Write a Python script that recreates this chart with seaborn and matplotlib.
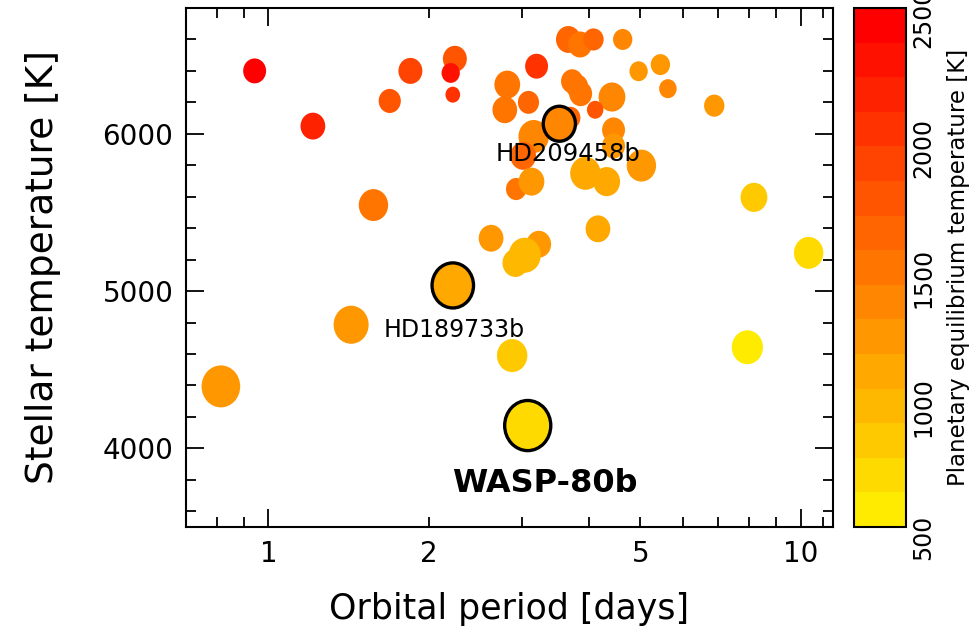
import numpy as np
import pandas as pd
import seaborn as sns
import matplotlib
matplotlib.use("Agg")
import matplotlib.pyplot as plt
from matplotlib.colors import ListedColormap, Normalize
from matplotlib.cm import ScalarMappable
from matplotlib.path import Path
from matplotlib.transforms import Affine2D, ScaledTranslation
from matplotlib.ticker import FixedLocator, FixedFormatter

# ---------------- data ----------------
period = [0.942, 1.212, 1.69, 1.848, 1.575, 2.24, 2.20, 2.22, 3.19, 2.81,
          2.78, 3.08, 3.66, 3.85, 4.08, 4.63, 3.72, 3.80, 3.86, 4.42,
          4.11, 3.69, 3.52, 3.15, 3.01, 4.45, 4.45, 2.92, 3.12, 3.94,
          4.32, 5.02, 4.16, 2.62, 3.22, 3.03, 2.91, 1.43, 0.814, 2.22,
          2.87, 3.07, 4.96, 5.45, 5.63, 6.88, 8.17, 10.35, 7.94]
teff = [6400, 6049, 6209, 6400, 5547, 6477, 6387, 6249, 6430, 6313,
        6153, 6200, 6600, 6568, 6600, 6600, 6334, 6302, 6255, 6234,
        6153, 6102, 6064, 5983, 5860, 6025, 5923, 5649, 5696, 5749,
        5696, 5798, 5396, 5336, 5298, 5228, 5179, 4786, 4394, 5036,
        4590, 4145, 6398, 6440, 6287, 6179, 5596, 5243, 4643]
teq = [2370, 2200, 1820, 1900, 1560, 1780, 2240, 1990, 1990, 1520,
       1560, 1650, 1650, 1560, 1690, 1350, 1520, 1480, 1440, 1390,
       1730, 1690, 1400, 1390, 1600, 1300, 1270, 1520, 1220, 1100,
       1050, 1180, 1140, 1220, 1220, 1030, 1030, 1220, 1270, 1100,
       800, 670, 1270, 1220, 1350, 1180, 840, 670, 520]
rp_rs = [0.089, 0.096, 0.086, 0.093, 0.114, 0.093, 0.071, 0.057, 0.089, 0.100,
         0.096, 0.082, 0.096, 0.093, 0.079, 0.075, 0.086, 0.086, 0.089, 0.104,
         0.064, 0.079, 0.125, 0.118, 0.100, 0.089, 0.089, 0.079, 0.100, 0.118,
         0.104, 0.114, 0.096, 0.096, 0.096, 0.125, 0.100, 0.136, 0.150, 0.161,
         0.118, 0.179, 0.071, 0.075, 0.068, 0.079, 0.104, 0.114, 0.121]
names = [""] * 49
names[22] = "HD209458b"
names[39] = "HD189733b"
names[41] = "WASP-80b"

x_ticklabels = ["1", "2", "5", "10"]
cbar_ticklabels = ["500", "1000", "1500", "2000", "2500"]

df = pd.DataFrame({"period": period, "teff": teff, "teq": teq,
                   "rp_rs": rp_rs, "name": names})
df["area"] = df["rp_rs"] ** 2

# ---------------- style ----------------
sns.set_theme(style="white")
plt.rcParams["font.family"] = ["DejaVu Sans"]
plt.rcParams["text.color"] = "black"
plt.rcParams["axes.labelcolor"] = "black"
plt.rcParams["xtick.color"] = "black"
plt.rcParams["ytick.color"] = "black"

# discrete yellow -> red colormap
nlev = 15
g = np.linspace(0.92, 0.0, nlev)
cmap = ListedColormap([(1.0, gi, 0.0) for gi in g])
norm = Normalize(500, 2500)

# elliptical marker (slightly taller than wide)
ell = Path.unit_circle().transformed(Affine2D().scale(0.92, 1.0))

amin, amax = df["area"].min(), df["area"].max()
k = 201.6 ** 2  # pt^2 per unit area
size_range = (k * amin, k * amax)

fig = plt.figure(figsize=(9.73, 6.30), dpi=100)
ax = fig.add_axes([186 / 973, 1 - 527 / 630, (833 - 186) / 973, (527 - 8) / 630])
cax = fig.add_axes([854 / 973, 1 - 527 / 630, 52 / 973, (527 - 8) / 630])

plain = df[df["name"] == ""]
special = df[df["name"] != ""]

sns.scatterplot(data=plain, x="period", y="teff", hue="teq", palette=cmap,
                hue_norm=norm, size="area", sizes=size_range,
                size_norm=(amin, amax), marker=ell, linewidth=0,
                legend=False, ax=ax)
sns.scatterplot(data=special, x="period", y="teff", hue="teq", palette=cmap,
                hue_norm=norm, size="area", sizes=size_range,
                size_norm=(amin, amax), marker=ell, edgecolor="black",
                linewidth=2.4, legend=False, ax=ax, zorder=5)

ax.set_xscale("log")
ax.set_xlim(0.7, 11.5)
ax.set_ylim(3500, 6800)

ax.xaxis.set_major_locator(FixedLocator([1, 10]))
ax.xaxis.set_major_formatter(FixedFormatter([x_ticklabels[0], x_ticklabels[3]]))
ax.xaxis.set_minor_locator(FixedLocator([0.7, 0.8, 0.9, 2, 3, 4, 5, 6, 7, 8, 9, 11]))
ax.xaxis.set_minor_formatter(FixedFormatter(["", "", "", x_ticklabels[1], "", "",
                                             x_ticklabels[2], "", "", "", "", ""]))
ax.set_yticks([4000, 5000, 6000])
ax.set_yticks(np.arange(3600, 6800, 200), minor=True)

ax.tick_params(which="both", direction="in", top=True, right=True,
               bottom=True, left=True, width=1.3, colors="black",
               labelsize=20, pad=9)
ax.tick_params(which="major", length=13)
ax.tick_params(which="minor", length=7)
for sp in ax.spines.values():
    sp.set_color("black")
    sp.set_linewidth(1.5)

ax.set_xlabel("Orbital period [days]", fontsize=25, labelpad=18)
ax.set_ylabel("Stellar temperature [K]", fontsize=27, labelpad=30)

# annotations
offsets = {"HD209458b": ((6, -22), 17.5, "normal"),
           "HD189733b": ((1, -32), 17, "normal"),
           "WASP-80b": ((12, -42), 23, "bold")}
for _, r in special.iterrows():
    off, fs, fw = offsets[r["name"]]
    ax.annotate(r["name"], xy=(r["period"], r["teff"]), xytext=off,
                textcoords="offset points", ha="center", va="center",
                fontsize=fs, fontweight=fw, color="black", zorder=6)

# colorbar
sm = ScalarMappable(norm=norm, cmap=cmap)
cb = fig.colorbar(sm, cax=cax)
cb.outline.set_linewidth(1.5)
cb.outline.set_edgecolor("black")
cb.set_ticks([500, 1000, 1500, 2000, 2500])
cb.set_ticklabels(cbar_ticklabels)
cax.yaxis.set_minor_locator(FixedLocator(np.arange(600, 2500, 100)))
cax.tick_params(which="both", direction="in", left=True, right=True,
                width=1.3, colors="black", labelsize=17, pad=4)
cax.tick_params(which="major", length=9)
cax.tick_params(which="minor", length=5)
shift = ScaledTranslation(0, -10 / 100, fig.dpi_scale_trans)
for lab in cax.get_yticklabels():
    lab.set_rotation(90)
    lab.set_va("center")
    lab.set_transform(lab.get_transform() + shift)
cb.set_label("Planetary equilibrium temperature [K]", fontsize=16.5,
             rotation=90, labelpad=8)

fig.savefig("out.png", dpi=100)
